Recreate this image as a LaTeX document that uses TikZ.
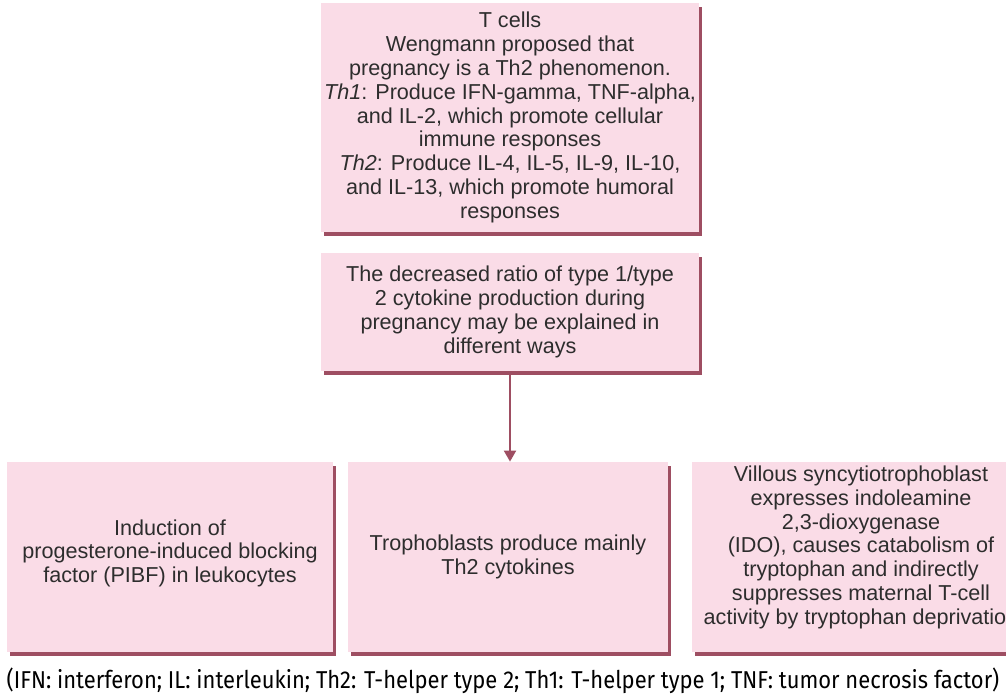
\documentclass[tikz,border=0pt]{standalone}
\usepackage{fontspec}
\setmainfont{Liberation Sans}
\newfontfamily\notefont[FakeStretch=0.9]{Fira Sans}
\usepackage{xcolor}
\usetikzlibrary{arrows.meta,shadows,positioning}

\definecolor{boxpink}{RGB}{250,220,231}
\definecolor{boxshade}{RGB}{158,78,98}
\definecolor{txtgray}{RGB}{45,45,45}

\tikzset{
  pinkbox/.style={draw=none, fill=boxpink, inner sep=0pt, align=center,
    text=txtgray, font=\fontsize{10.8}{11.9}\selectfont,
    drop shadow={shadow xshift=1.4pt, shadow yshift=-1.8pt, fill=boxshade, opacity=1}},
  flowarrow/.style={draw=boxshade, line width=1pt, -{Triangle[width=6pt,length=5.5pt]}}
}

\begin{document}
\begin{tikzpicture}[x=0.5pt,y=0.5pt,yscale=-1,xscale=1]
\useasboundingbox (0,0) rectangle (1006,698);

%Rect: T cells
\node [pinkbox, minimum width=189pt, minimum height=114.5pt] (tcells) at (510,117.5)
  {T cells\\
   Wengmann proposed that\\
   pregnancy is a Th2 phenomenon.\\
   \textit{Th1}: Produce IFN-gamma, TNF-alpha,\\
   and IL-2, which promote cellular\\
   immune responses\\
   \textit{Th2}: Produce IL-4, IL-5, IL-9, IL-10,\\
   and IL-13, which promote humoral\\
   responses};

%Rect: ratio
\node [pinkbox, minimum width=189pt, minimum height=59pt] (ratio) at (510,312)
  {The decreased ratio of type 1/type\\
   2 cytokine production during\\
   pregnancy may be explained in\\
   different ways};

%Rect: bottom row
\node [pinkbox, minimum width=163pt, minimum height=95pt] (pibf) at (170,557)
  {Induction of\\
   progesterone-induced blocking\\
   factor (PIBF) in leukocytes\\[-6pt]\mbox{}};
\node [pinkbox, minimum width=160pt, minimum height=95pt] (troph) at (508,557)
  {Trophoblasts produce mainly\\
   Th2 cytokines};
\node [pinkbox, minimum width=169pt, minimum height=95pt] (ido) at (861,557)
  {Villous syncytiotrophoblast\\
   expresses indoleamine\\
   2,3-dioxygenase\\
   (IDO), causes catabolism of\\
   tryptophan and indirectly\\
   suppresses maternal T-cell\\
   activity by tryptophan deprivation\\ \mbox{}};

%Arrow
\draw [flowarrow] (ratio.south) -- (ratio.south |- troph.north);

% Text Node
\node [text=black, font=\notefont\fontsize{12.2}{14}\selectfont] (note) at (503,681)
  {(IFN: interferon; IL: interleukin; Th2: T-helper type 2; Th1: T-helper type 1; TNF: tumor necrosis factor)};

\end{tikzpicture}
\end{document}
